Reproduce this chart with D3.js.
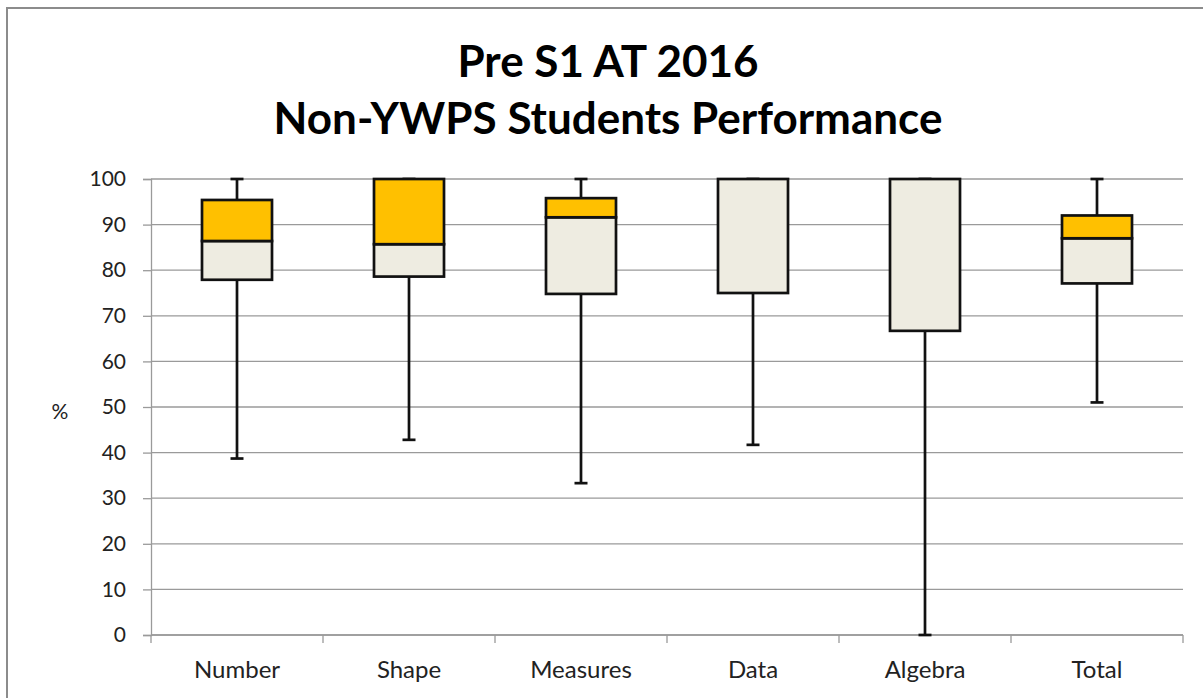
<!DOCTYPE html>
<html>
<head>
<meta charset="utf-8">
<script src="https://cdn.jsdelivr.net/npm/d3@7"></script>
<style>
  body { margin: 0; background: #fff; }
  svg { display: block; }
  text { font-family: Lato, "Open Sans", sans-serif; }
</style>
</head>
<body>
<svg id="canvas" width="1203" height="698"></svg>
<script>
// data
var categories = ['Number', 'Shape', 'Measures', 'Data', 'Algebra', 'Total'];
var minVals    = [38.7, 42.8, 33.3, 41.7,  0.0, 51.0];
var q1Vals     = [77.9, 78.6, 74.8, 75.0, 66.7, 77.1];
var medVals    = [86.4, 85.7, 91.6, 100,  100,  87.0];
var q3Vals     = [95.4, 100,  95.8, 100,  100,  92.0];
var maxVals    = [100,  100,  100,  100,  100,  100];
var yTicks     = [0, 10, 20, 30, 40, 50, 60, 70, 80, 90, 100];
var titleLines = ['Pre S1 AT 2016', 'Non-YWPS Students Performance'];

var svg = d3.select('#canvas');

// chart frame
svg.append('rect')
  .attr('x', 7).attr('y', 8).attr('width', 1210).attr('height', 710)
  .style('fill', 'none').style('stroke', '#8c8c8c').style('stroke-width', 2);

var plot = { left: 151, right: 1183, top: 179, bottom: 635 };

var x = d3.scaleBand().domain(categories).range([plot.left, plot.right]);
var y = d3.scaleLinear().domain([0, 100]).range([plot.bottom, plot.top]);

// title
svg.selectAll('.title').data(titleLines).enter().append('text')
  .attr('class', 'title')
  .attr('x', 608).attr('y', (d, i) => 77 + i * 57)
  .attr('text-anchor', 'middle')
  .style('font-size', '44px').style('font-weight', 'bold').style('fill', '#000')
  .text(d => d);

// gridlines
svg.append('g').selectAll('line').data(yTicks).enter().append('line')
  .attr('x1', plot.left).attr('x2', plot.right)
  .attr('y1', d => y(d)).attr('y2', d => y(d))
  .style('stroke', '#9a9a9a').style('stroke-width', 1.3);

// y axis
var yAxis = svg.append('g').attr('transform', 'translate(' + plot.left + ',0)')
  .call(d3.axisLeft(y).tickValues(yTicks).tickSize(8).tickPadding(17));
yAxis.select('.domain').style('stroke', '#9a9a9a').style('stroke-width', 1.3);
yAxis.selectAll('.tick line').style('stroke', '#9a9a9a').style('stroke-width', 1.3);
yAxis.selectAll('.tick text').style('font-size', '21px').style('fill', '#222')
  .style('font-family', 'Lato, "Open Sans", sans-serif');

svg.append('text').attr('x', 60).attr('y', 419).attr('text-anchor', 'middle')
  .style('font-size', '21px').style('fill', '#222').text('%');

// x axis
var xAxis = svg.append('g').attr('transform', 'translate(0,' + plot.bottom + ')')
  .call(d3.axisBottom(x).tickSize(0).tickPadding(26));
xAxis.select('.domain').remove();
xAxis.selectAll('.tick text').style('font-size', '24px').style('fill', '#222')
  .style('font-family', 'Lato, "Open Sans", sans-serif');
svg.append('line').attr('x1', plot.left).attr('x2', plot.right)
  .attr('y1', plot.bottom).attr('y2', plot.bottom)
  .style('stroke', '#9a9a9a').style('stroke-width', 1.3);
var edges = categories.map(c => x(c)).concat([plot.right]);
svg.append('g').selectAll('line').data(edges).enter().append('line')
  .attr('x1', d => d).attr('x2', d => d)
  .attr('y1', plot.bottom).attr('y2', plot.bottom + 8)
  .style('stroke', '#9a9a9a').style('stroke-width', 1.3);

// boxes
var boxW = 70, capW = 13;
var rows = categories.map((c, i) => ({ c: c, min: minVals[i], q1: q1Vals[i], med: medVals[i], q3: q3Vals[i], max: maxVals[i] }));
var g = svg.append('g').selectAll('g').data(rows).enter().append('g')
  .attr('transform', d => 'translate(' + (x(d.c) + x.bandwidth() / 2) + ',0)');

// whiskers
g.append('line').attr('x1', 0).attr('x2', 0).attr('y1', d => y(d.max)).attr('y2', d => y(d.q3))
  .style('stroke', '#111').style('stroke-width', 2.7);
g.append('line').attr('x1', 0).attr('x2', 0).attr('y1', d => y(d.q1)).attr('y2', d => y(d.min))
  .style('stroke', '#111').style('stroke-width', 2.7);
g.append('line').attr('x1', -capW / 2).attr('x2', capW / 2).attr('y1', d => y(d.max)).attr('y2', d => y(d.max))
  .style('stroke', '#111').style('stroke-width', 2.7);
g.append('line').attr('x1', -capW / 2).attr('x2', capW / 2).attr('y1', d => y(d.min)).attr('y2', d => y(d.min))
  .style('stroke', '#111').style('stroke-width', 2.7);

// lower box (q1 - median) and upper box (median - q3)
g.append('rect').attr('x', -boxW / 2).attr('width', boxW)
  .attr('y', d => y(d.med)).attr('height', d => y(d.q1) - y(d.med))
  .style('fill', '#eeece1').style('stroke', '#111').style('stroke-width', 2.7);
g.filter(d => d.q3 > d.med).append('rect').attr('x', -boxW / 2).attr('width', boxW)
  .attr('y', d => y(d.q3)).attr('height', d => y(d.med) - y(d.q3))
  .style('fill', '#ffc000').style('stroke', '#111').style('stroke-width', 2.7);
</script>
</body>
</html>
